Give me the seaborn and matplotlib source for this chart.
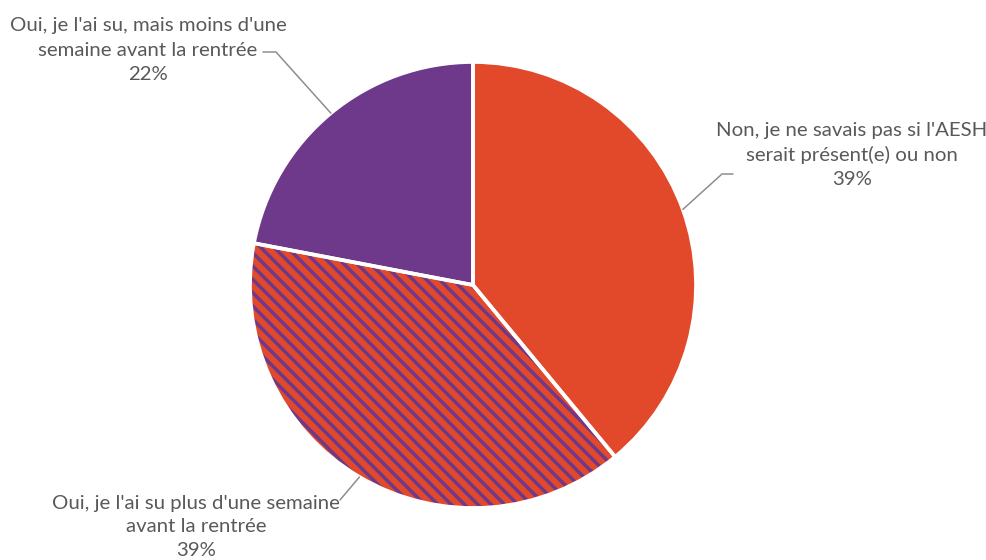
import numpy as np
import seaborn as sns
import matplotlib.pyplot as plt

# data
categories = [
    "Non, je ne savais pas si l'AESH\nserait présent(e) ou non",
    "Oui, je l'ai su plus d'une semaine\navant la rentrée",
    "Oui, je l'ai su, mais moins d'une\nsemaine avant la rentrée",
]
shares = [39, 39, 22]

ORANGE = "#E2492A"
PURPLE = "#6E398B"
TEXT = "#595959"

# label placement in pixels (centre of text block) and elbow of the leader line
label_px = [(852, 155), (196, 527), (148, 50)]
elbow_px = [[(722, 174), (733, 174)], [(340, 500)], [(276, 52), (263, 52)]]

DPI = 120
W, H = 986, 560
CX, CY, R = 473, 285, 223

sns.set_theme(style="white")
plt.rcParams['font.family'] = ['Lato', 'DejaVu Sans']
plt.rcParams['hatch.linewidth'] = 2.1


def px(x, y):
    return (x - CX) / R, (CY - y) / R


fig = plt.figure(figsize=(W / DPI, H / DPI), dpi=DPI)
ax = fig.add_axes([0, 0, 1, 1])

wedges, _ = ax.pie(shares, startangle=90, counterclock=False, radius=1,
                   colors=[ORANGE, ORANGE, PURPLE],
                   wedgeprops=dict(linewidth=0))
# purple stripes on the orange slice (hatch takes the edge colour)
wedges[1].set_edgecolor(PURPLE)
wedges[1].set_hatch('\\\\\\')

# white separators on top
ax.pie(shares, startangle=90, counterclock=False, radius=1,
       colors=['none'] * 3,
       wedgeprops=dict(linewidth=2.2, edgecolor='white', fill=False))

for w, cat, val, lp, el in zip(wedges, categories, shares, label_px, elbow_px):
    mid = np.deg2rad((w.theta1 + w.theta2) / 2)
    pts = [(np.cos(mid), np.sin(mid))] + [px(*p) for p in el]
    xs, ys = zip(*pts)
    ax.plot(xs, ys, color='#8C8C8C', lw=0.9)
    ax.text(*px(*lp), f"{cat}\n{val}%", ha='center', va='center',
            fontsize=12.2, color=TEXT, linespacing=1.5)

# pie() resets the limits, so set them afterwards
ax.set_aspect('auto')
ax.set_xlim(-CX / R, (W - CX) / R)
ax.set_ylim(-(H - CY) / R, CY / R)
ax.axis('off')

fig.savefig("out.png", dpi=DPI)
